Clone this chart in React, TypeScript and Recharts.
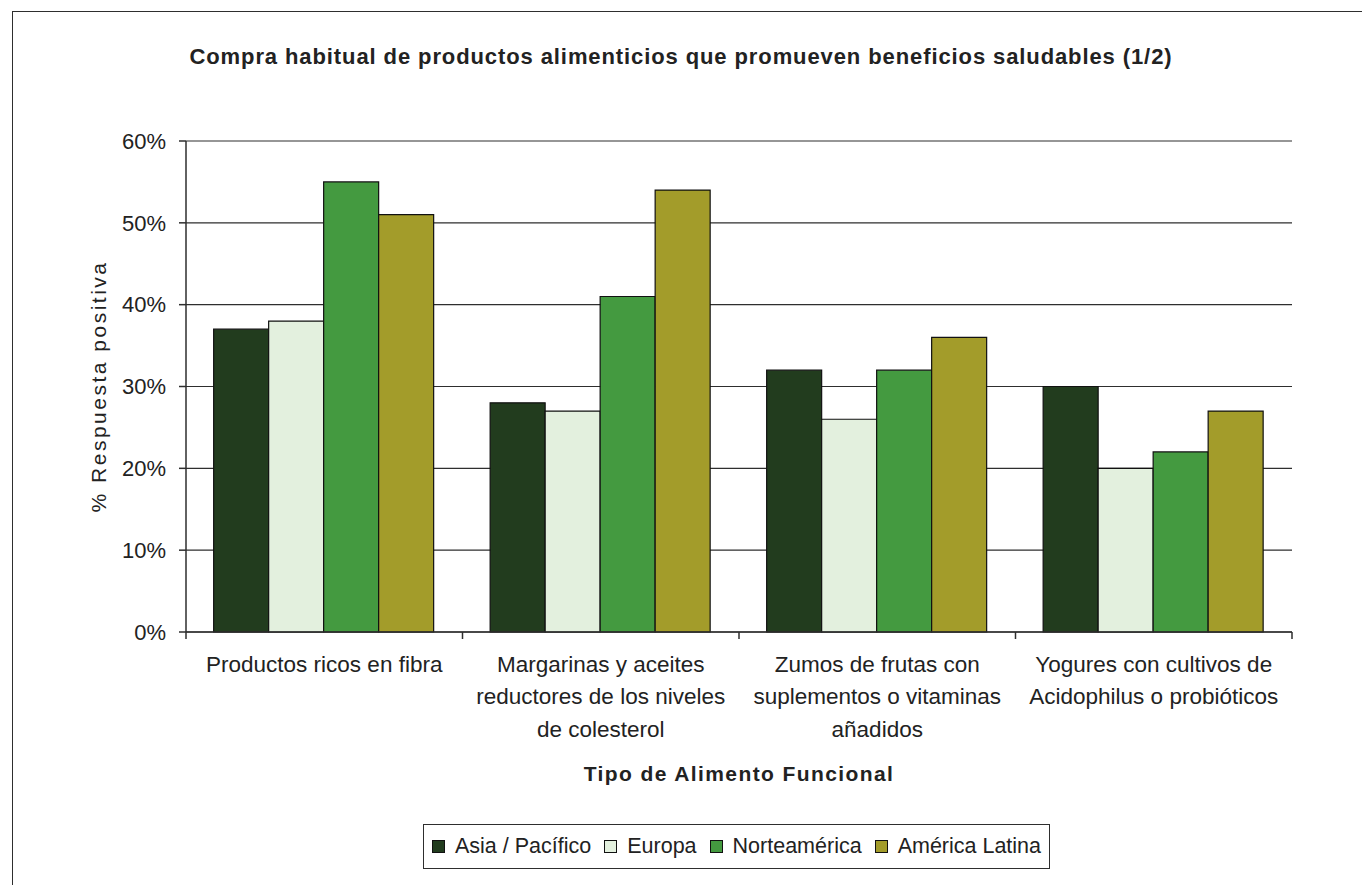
import { Bar, BarChart, CartesianGrid, Legend, XAxis, YAxis } from "recharts";

const CATEGORY_LINES = [
  ["Productos ricos en fibra"],
  ["Margarinas y aceites", "reductores de los niveles", "de colesterol"],
  ["Zumos de frutas con", "suplementos o vitaminas", "añadidos"],
  ["Yogures con cultivos de", "Acidophilus o probióticos"],
];
const CATEGORIES = CATEGORY_LINES.map((lines) => lines.join(" "));

const SERIES_KEYS = ["asia", "europa", "norteamerica", "latina"];
const SERIES_NAMES = ["Asia / Pacífico", "Europa", "Norteamérica", "América Latina"];
const ASIA = [37, 28, 32, 30];
const EUROPA = [38, 27, 26, 20];
const NORTEAMERICA = [55, 41, 32, 22];
const LATINA = [51, 54, 36, 27];
const Y_TICKS = [0, 10, 20, 30, 40, 50, 60];

const COLORS: Record<string, string> = {
  asia: "#223c1e",
  europa: "#e3f0de",
  norteamerica: "#449a40",
  latina: "#a39c2a",
};

const data = CATEGORIES.map((category, i) => ({
  category,
  asia: ASIA[i],
  europa: EUROPA[i],
  norteamerica: NORTEAMERICA[i],
  latina: LATINA[i],
}));

const W = 1362;
const H = 885;
const MARGIN = { top: 141, right: 70, left: 0, bottom: 0 };
const Y_AXIS_W = 186;
const X_AXIS_H = H - 632;
const PLOT_W = W - MARGIN.left - MARGIN.right - Y_AXIS_W;
const BAND = PLOT_W / CATEGORIES.length;
const FONT = "'Liberation Sans', Arial, sans-serif";
const INK = "#222";
const AXIS = "#2e2e2e";

function CategoryTick(props: any) {
  const { x, y, index, payload } = props;
  const lines = CATEGORY_LINES[index] ?? [String(payload.value)];
  const isLast = index === CATEGORIES.length - 1;
  return (
    <g>
      <line x1={x - BAND / 2} x2={x - BAND / 2} y1={y} y2={y + 7} stroke={AXIS} strokeWidth={1.5} />
      {isLast && (
        <line x1={x + BAND / 2} x2={x + BAND / 2} y1={y} y2={y + 7} stroke={AXIS} strokeWidth={1.5} />
      )}
      {lines.map((line, i) => (
        <text
          key={i}
          x={x}
          y={y + 32 + i * 32.5}
          textAnchor="middle"
          dominantBaseline="central"
          fontFamily={FONT}
          fontSize={22.5}
          fill={INK}
        >
          {line}
        </text>
      ))}
    </g>
  );
}

function YTitle(props: any) {
  const { viewBox } = props;
  const cy = viewBox.y + viewBox.height / 2;
  return (
    <text
      x={98}
      y={cy}
      transform={`rotate(-90, 98, ${cy})`}
      textAnchor="middle"
      dominantBaseline="central"
      fontFamily={FONT}
      fontSize={21}
      letterSpacing={2.5}
      fill={INK}
    >
      % Respuesta positiva
    </text>
  );
}

function XTitle(props: any) {
  const { viewBox } = props;
  return (
    <text
      x={viewBox.x + viewBox.width / 2}
      y={viewBox.y + 141}
      textAnchor="middle"
      dominantBaseline="central"
      fontFamily={FONT}
      fontSize={21}
      fontWeight="bold"
      letterSpacing={1.4}
      fill={INK}
    >
      Tipo de Alimento Funcional
    </text>
  );
}

function LegendBox() {
  return (
    <div
      style={{
        boxSizing: "border-box",
        width: "100%",
        height: "100%",
        border: `1.5px solid ${AXIS}`,
        display: "flex",
        alignItems: "center",
        paddingLeft: 8,
        fontFamily: FONT,
        fontSize: 21.5,
        color: INK,
        whiteSpace: "nowrap",
      }}
    >
      {SERIES_KEYS.map((key, i) => (
        <span key={key} style={{ display: "flex", alignItems: "center", marginRight: 13 }}>
          <span
            style={{
              display: "inline-block",
              boxSizing: "border-box",
              width: 13,
              height: 13,
              background: COLORS[key],
              border: "1px solid #111",
              marginRight: 10,
            }}
          />
          {SERIES_NAMES[i]}
        </span>
      ))}
    </div>
  );
}

export default function App() {
  return (
    <div
      style={{
        position: "absolute",
        left: 0,
        top: 0,
        width: W,
        height: H,
        overflow: "hidden",
        background: "#fff",
        fontFamily: FONT,
      }}
    >
      <div
        style={{
          position: "absolute",
          left: 12,
          top: 11,
          width: W + 50,
          height: H + 50,
          borderLeft: `1.5px solid ${AXIS}`,
          borderTop: `1.5px solid ${AXIS}`,
        }}
      />
      <div
        style={{
          position: "absolute",
          left: 0,
          top: 44,
          width: W,
          textAlign: "center",
          fontSize: 22,
          lineHeight: "26px",
          fontWeight: "bold",
          letterSpacing: 0.9,
          color: INK,
        }}
      >
        Compra habitual de productos alimenticios que promueven beneficios saludables (1/2)
      </div>
      <BarChart width={W} height={H} data={data} margin={MARGIN} barCategoryGap="10%" barGap={0}>
        <CartesianGrid vertical={false} stroke={AXIS} strokeWidth={1.2} />
        <XAxis
          dataKey="category"
          height={X_AXIS_H}
          interval={0}
          tickLine={false}
          tickSize={0}
          tickMargin={0}
          axisLine={{ stroke: AXIS, strokeWidth: 1.5 }}
          tick={<CategoryTick />}
          label={<XTitle />}
        />
        <YAxis
          width={Y_AXIS_W}
          domain={[0, 60]}
          ticks={Y_TICKS}
          interval={0}
          tickFormatter={(v) => `${v}%`}
          tickSize={7}
          tickMargin={13}
          tickLine={{ stroke: AXIS, strokeWidth: 1.5 }}
          axisLine={{ stroke: AXIS, strokeWidth: 1.5 }}
          tick={{ fontSize: 22, fill: INK, fontFamily: FONT }}
          label={<YTitle />}
        />
        <Legend
          layout="horizontal"
          verticalAlign="middle"
          align="center"
          content={<LegendBox />}
          wrapperStyle={{ left: 423, top: 824, width: 627, height: 45 }}
        />
        {SERIES_KEYS.map((key, i) => (
          <Bar
            key={key}
            dataKey={key}
            name={SERIES_NAMES[i]}
            fill={COLORS[key]}
            stroke="#111"
            strokeWidth={1.2}
            isAnimationActive={false}
          />
        ))}
      </BarChart>
    </div>
  );
}
